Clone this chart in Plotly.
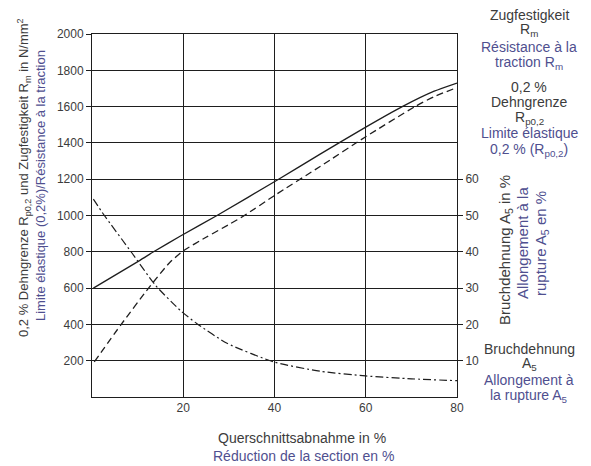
import plotly.graph_objects as go

# Reduction of cross-section in %
x_rm = [0.3, 10.5, 13.5, 19.4, 27.4, 40.9, 50, 60, 68, 75, 80]
y_rm = [600, 753, 800, 887, 1000, 1200, 1338, 1487, 1600, 1685, 1730]

x_rp = [0.5, 6.4, 12.4, 17, 20, 25, 30, 33.4, 40, 50, 60, 70.8, 75, 80]
y_rp = [194, 400, 600, 740, 805, 880, 950, 1000, 1110, 1270, 1434, 1600, 1655, 1705]

x_a5 = [0.3, 2.6, 8.8, 13.9, 19.4, 23, 29.6, 40, 50, 60, 70, 80]
y_a5 = [54.5, 50.2, 39.6, 30.8, 23.8, 20.2, 14.8, 9.6, 7.1, 5.8, 5.0, 4.5]

x_ticks = [20, 40, 60, 80]
y_ticks = [200, 400, 600, 800, 1000, 1200, 1400, 1600, 1800, 2000]
y2_ticks = [10, 20, 30, 40, 50, 60]

DARK = "#3c3c3c"
PURPLE = "#4f4f8f"
LINE = "#1e1e1e"
FONT = "Liberation Sans"

fig = go.Figure()
fig.add_trace(go.Scatter(x=x_rm, y=y_rm, mode="lines", showlegend=False,
                         line=dict(color=LINE, width=1.3, shape="spline", smoothing=0.6)))
fig.add_trace(go.Scatter(x=x_rp, y=y_rp, mode="lines", showlegend=False,
                         line=dict(color=LINE, width=1.3, shape="spline", smoothing=0.6, dash="7px,4px")))
fig.add_trace(go.Scatter(x=x_a5, y=y_a5, mode="lines", showlegend=False, yaxis="y2",
                         line=dict(color=LINE, width=1.2, shape="spline", smoothing=0.6, dash="8px,3px,2px,3px")))

L, R, T, B = 92, 457, 34, 397
W, H = R - L, B - T


def ann(px, py, text, color, angle=0, size=14):
    return dict(x=(px - L) / W, y=(B - py) / H, xref="paper", yref="paper",
                text=text, showarrow=False, textangle=angle,
                xanchor="center", yanchor="middle",
                font=dict(family=FONT, size=size, color=color))


annotations = [
    ann(24, 178, "0,2 % Dehngrenze R<sub>p0,2</sub> und Zugfestigkeit R<sub>m</sub> in N/mm<sup>2</sup>", DARK, -90, 13),
    ann(40, 186, "Limite élastique (0,2%)/Résistance à la traction", PURPLE, -90, 13),
    ann(302, 438, "Querschnittsabnahme in %", DARK),
    ann(303, 456, "Réduction de la section en %", PURPLE),
    # top right block
    ann(529, 15, "Zugfestigkeit", DARK),
    ann(529, 30, "R<sub>m</sub>", DARK),
    ann(529, 47, "Résistance à la", PURPLE),
    ann(529, 63, "traction R<sub>m</sub>", PURPLE),
    ann(529, 87, "0,2 %", DARK),
    ann(529, 102, "Dehngrenze", DARK),
    ann(529, 118, "R<sub>p0,2</sub>", DARK),
    ann(529, 133, "Limite élastique", PURPLE),
    ann(529, 150, "0,2 % (R<sub>p0,2</sub>)", PURPLE),
    # vertical right block
    ann(505, 250, "Bruchdehnung A<sub>5</sub> in %", DARK, -90, 15),
    ann(523, 243, "Allongement à la", PURPLE, -90, 15),
    ann(541, 244, "rupture A<sub>5</sub> en %", PURPLE, -90, 15),
    # bottom right block
    ann(529, 349, "Bruchdehnung", DARK),
    ann(529, 364, "A<sub>5</sub>", DARK),
    ann(529, 380, "Allongement à", PURPLE),
    ann(529, 396, "la rupture A<sub>5</sub>", PURPLE),
]

fig.update_layout(
    width=591, height=466,
    margin=dict(l=L, r=591 - R, t=T, b=466 - B, pad=0),
    paper_bgcolor="white", plot_bgcolor="white",
    font=dict(family=FONT, size=12, color=DARK),
    xaxis=dict(range=[0, 80], tickvals=x_ticks, ticks="", showgrid=True,
               gridcolor=LINE, gridwidth=1, showline=True, linecolor=LINE,
               linewidth=1, mirror=True, zeroline=False,
               tickfont=dict(family=FONT, size=12, color=DARK)),
    yaxis=dict(range=[0, 2000], tickvals=y_ticks, ticks="outside", ticklen=5,
               tickcolor=LINE, showgrid=True, gridcolor=LINE, gridwidth=1,
               showline=True, linecolor=LINE, linewidth=1, mirror=True,
               zeroline=False, tickfont=dict(family=FONT, size=12, color=DARK)),
    yaxis2=dict(range=[0, 100], tickvals=y2_ticks, overlaying="y", side="right",
                ticks="outside", ticklen=5, tickcolor=LINE, showgrid=False,
                showline=False, zeroline=False,
                tickfont=dict(family=FONT, size=12, color=DARK)),
    annotations=annotations,
)

fig.write_html("out.html", config={"displayModeBar": False},
               post_script="document.body.style.margin='0';")
